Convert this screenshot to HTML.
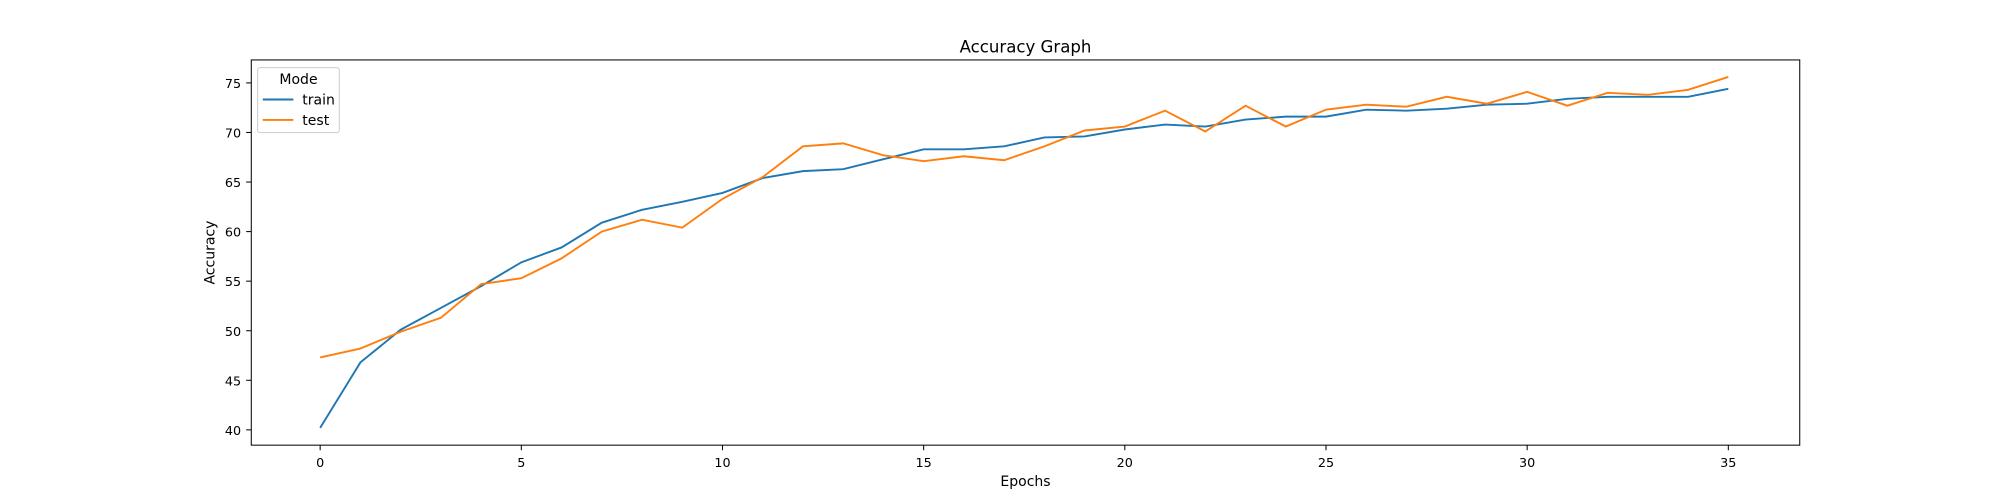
<!DOCTYPE html>
<html><head><meta charset="utf-8"><style>
body{margin:0;background:#fff;}
svg{display:block;}
svg text{font-family:"DejaVu Sans","Liberation Sans",sans-serif;fill:#000;}
</style></head><body>
<svg id="chart" width="2000" height="500" viewBox="0 0 1568 392" preserveAspectRatio="none" xmlns="http://www.w3.org/2000/svg">
<rect width="1568" height="392" fill="#fff"/>
<text x="804" y="41" font-size="13" text-anchor="middle">Accuracy Graph</text>
<g id="plot"></g>
<rect x="197" y="47" width="1214" height="302" fill="none" stroke="#000" stroke-width="0.8"/>
<text x="804" y="381" font-size="11" text-anchor="middle">Epochs</text>
<text transform="translate(168,198) rotate(-90)" font-size="11" text-anchor="middle">Accuracy</text>
<g>
<rect x="202" y="53" width="64" height="51" rx="2" fill="#fff" stroke="#ccc" stroke-width="0.8"/>
<text x="234" y="66" font-size="11" text-anchor="middle">Mode</text>
<line x1="206" y1="78" x2="230" y2="78" stroke="#1f77b4" stroke-width="1.5"/>
<text x="237" y="82" font-size="11">train</text>
<line x1="206" y1="94" x2="230" y2="94" stroke="#ff7f0e" stroke-width="1.5"/>
<text x="237" y="98" font-size="11">test</text>
</g>
</svg>
<script>
const epochs = [...Array(36).keys()];
const trainValues = [40.2,46.8,50.1,52.3,54.5,56.9,58.4,60.9,62.2,63.0,63.9,65.4,66.1,66.3,67.3,68.3,68.3,68.6,69.5,69.6,70.3,70.8,70.6,71.3,71.6,71.6,72.3,72.2,72.4,72.8,72.9,73.4,73.6,73.6,73.6,74.4];
const testValues = [47.3,48.2,49.9,51.3,54.7,55.3,57.3,60.0,61.2,60.4,63.3,65.5,68.6,68.9,67.7,67.1,67.6,67.2,68.6,70.2,70.6,72.2,70.1,72.7,70.6,72.3,72.8,72.6,73.6,72.9,74.1,72.7,74.0,73.8,74.3,75.6];
const xTicks = [0,5,10,15,20,25,30,35];
const yTicks = [40,45,50,55,60,65,70,75];

const xs = v => 251 + v*(1355-251)/35;
const ys = v => 337 - (v-40)*(337-65)/35;
const NS = "http://www.w3.org/2000/svg";
const g = document.getElementById('plot');
function mk(tag, attrs){const e=document.createElementNS(NS,tag);for(const k in attrs)e.setAttribute(k,attrs[k]);g.appendChild(e);return e;}
xTicks.forEach(t=>{
  const l=mk('line',{x1:xs(t),x2:xs(t),y1:349,y2:353,stroke:'#000','stroke-width':0.8});
  
  
  const tx=mk('text',{x:xs(t),y:366,'font-size':10,'text-anchor':'middle'});
  tx.textContent=t;
  
  
});
yTicks.forEach(t=>{
  const l=mk('line',{x1:193,x2:197,y1:ys(t),y2:ys(t),stroke:'#000','stroke-width':0.8});
  
  
  const tx=mk('text',{x:189,y:ys(t)+4,'font-size':10,'text-anchor':'end'});
  tx.textContent=t;
  
  
});
function series(vals,color,name){
  const p=mk('polyline',{points:vals.map((v,i)=>xs(epochs[i])+','+ys(v)).join(' '),fill:'none',stroke:color,'stroke-width':1.5});
  
  
}
series(trainValues,'#1f77b4','train-line');
series(testValues,'#ff7f0e','test-line');
</script>
</body></html>
